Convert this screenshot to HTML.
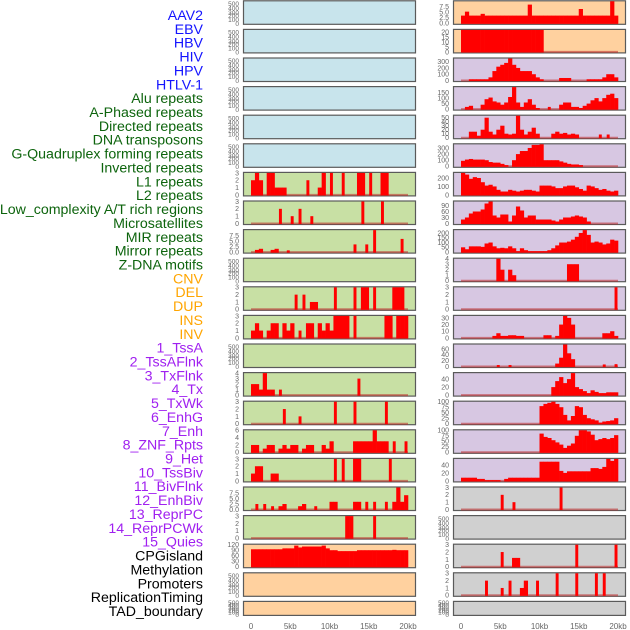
<!DOCTYPE html>
<html><head><meta charset="utf-8">
<style>
html,body{margin:0;padding:0;background:#fff;}
svg{display:block;font-family:"Liberation Sans",sans-serif;}
</style></head>
<body>
<svg id="chart" width="630" height="630" viewBox="0 0 630 630" xmlns="http://www.w3.org/2000/svg"></svg>
<script>
const labels = ["AAV2","EBV","HBV","HIV","HPV","HTLV-1","Alu repeats","A-Phased repeats","Directed repeats","DNA transposons","G-Quadruplex forming repeats","Inverted repeats","L1 repeats","L2 repeats","Low_complexity A/T rich regions","Microsatellites","MIR repeats","Mirror repeats","Z-DNA motifs","CNV","DEL","DUP","INS","INV","1_TssA","2_TssAFlnk","3_TxFlnk","4_Tx","5_TxWk","6_EnhG","7_Enh","8_ZNF_Rpts","9_Het","10_TssBiv","11_BivFlnk","12_EnhBiv","13_ReprPC","14_ReprPCWk","15_Quies","CPGisland","Methylation","Promoters","ReplicationTiming","TAD_boundary"];
const categories = ["virus","virus","virus","virus","virus","virus","repeat","repeat","repeat","repeat","repeat","repeat","repeat","repeat","repeat","repeat","repeat","repeat","repeat","sv","sv","sv","sv","sv","chrom","chrom","chrom","chrom","chrom","chrom","chrom","chrom","chrom","chrom","chrom","chrom","chrom","chrom","chrom","other","other","other","other","other"];
const xTickLabels = ["0","5kb","10kb","15kb","20kb"];
const xTickValues = [0,5000,10000,15000,20000];
const emptyTicks = ["0","100","200","300","400","500"];
const ticks3 = [0,1,2,3];
const ticks4 = [0,1,2,3,4];
const ticks10 = [0,2.5,5,7.5];
const ticks20 = [0,5,10,15,20];
const ticks120 = [0,30,60,90,120];
const ticks300 = [0,100,200,300];
const ticks150 = [0,50,100,150];
const ticks50 = [0,10,20,30,40,50];
const ticks200 = [0,100,200];
const ticks90 = [0,30,60,90];
const ticks200b = [0,50,100,150,200];
const ticks30 = [0,10,20,30];
const ticks60 = [0,20,40,60];
const ticks40 = [0,20,40];
const ticks100 = [0,25,50,75,100];
const ticks6 = [0,2,4,6];

// series values: 40 bins of 500bp
const alu = [2,3,2,0,3,3,1,1,1,0,0,0,0,0,2,0,0,1,3,0,3,0,0,3,0,0,0,3,3,0,3,0,0,3,3,0,0,0,0,0];
const aphased = [0,0,0,0,0,0,0,2,0,0,1,0,2,0,0,1,0,0,0,0,0,0,0,0,0,0,0,0,3,0,0,0,0,3,0,0,0,0,0,0];
const directed = [0,1,1.5,0,0,1,1.5,0,0,0.8,0,0,0,0,0,0,0,0,0,0,0,0,0,0,0,0,3.5,0,0,3.5,0,10,0,0,0,0,0,0,6,0];
const gquad = [0,0,0,0,0,0,0,0,0,0,0,2,0,2,0,1,1,0,0,0,0,3,0,0,0,0,3,0,3,3,0,3,0,0,0,0,3,3,3,0];
const inverted = [1,2,1,0,1,2,2,0,2,1,2,0,1,0,2,2,0,2,1,2,1,3,3,3,3,0,3,0,0,0,0,0,0,0,3,3,0,3,3,3];
const l2 = [2,2,1,4,1,1,0,1,0,0,0,0,0,0,0,0,0,0,0,0,0,0,0,0,0,0,0,3,0,0,0,0,0,0,0,0,0,0,0,0];
const lowcomp = [0,0,0,0,0,0,0,0,2,0,0,0,1,0,0,0,0,0,0,0,0,3,0,0,0,0,3,0,0,0,0,0,0,0,3,0,0,0,0,0];
const micro = [2,2,0,1,2,2,0,1,2,1,2,2,0,1,2,2,0,0,2,1,3,0,0,0,0,0,3,3,3,3,3,6,3,3,3,0,3,0,0,3];
const mir = [1,2,2,0,0,1,1,0,0,0,0,0,0,0,0,0,0,0,0,0,0,3,0,3,0,0,3,3,0,0,0,0,0,0,0,3,0,0,0,0];
const mirror = [0,2.5,0,2.5,0,1.5,0,1.5,2.5,0,0,0,1.5,2.5,0,0,1.5,0,0,0,3.5,3.5,0,0,0,0,3.5,3.5,0,3.5,0,3.5,0,0,3.5,0,3.5,10,3.5,6.5];
const zdna = [0,0,0,0,0,0,0,0,0,0,0,0,0,0,0,0,0,0,0,0,0,0,0,0,3,3,0,0,0,0,0,3,0,0,0,0,0,0,0,0];
const cnv = [95,95,95,95,95,95,95,95,100,100,100,115,105,110,110,110,110,110,115,100,90,90,85,85,85,85,85,90,90,90,90,90,90,90,90,90,92,90,90,90];
const ins = [3.5,5.3,3.5,3.5,3.5,4.3,3.5,3.5,3.5,3.5,3.5,3.5,3.5,3.5,3.5,3.5,3.5,8.5,3.5,3.5,3.5,3.5,3.5,3.5,3.5,3.5,3.5,3.5,3.5,3.5,6.5,3.5,3.5,3.5,3.5,3.5,3.5,3.5,10,3.5];
const inv = [22,22,22,22,22,22,22,22,22,22,22,22,22,22,22,22,22,22,22,22,22,0,0,0,0,0,0,0,0,0,0,0,0,0,0,0,0,0,0,0];
const tssa = [0,0,20,20,20,20,20,50,150,220,250,280,350,250,200,150,150,150,100,50,20,0,0,0,0,40,40,40,0,0,0,0,20,20,20,20,50,100,100,50];
const tssaflnk = [0,20,30,0,0,40,90,105,70,60,40,60,110,200,60,20,60,90,40,10,0,0,20,0,0,40,60,60,20,20,10,30,50,80,100,70,100,130,140,100];
const txflnk = [0,0,15,15,5,20,50,15,8,20,30,10,8,10,55,20,8,15,25,10,0,0,0,10,15,10,12,8,10,8,0,0,0,0,0,8,0,8,0,0];
const tx = [90,110,120,110,110,110,100,70,60,60,40,20,0,100,200,250,250,300,350,350,360,100,100,100,100,80,60,40,30,30,20,0,0,0,0,0,0,0,0,0];
const txwk = [260,240,190,210,200,150,110,120,100,60,40,40,60,50,40,50,60,60,50,40,110,110,110,100,80,80,100,110,110,90,70,50,110,100,80,60,70,50,40,50];
const enhg = [20,30,50,60,60,70,100,110,40,30,45,45,10,40,85,65,30,40,40,20,20,20,20,15,10,20,30,30,35,40,35,30,10,0,0,0,0,0,0,0];
const enh = [50,30,60,60,60,55,90,100,60,40,45,40,60,40,10,40,20,10,10,10,10,10,20,40,70,100,100,110,130,160,200,230,180,100,110,100,80,90,130,120];
const znf = [0,0,0,0,0,0,0,0,0,4,2,0,2,1,0,0,0,0,0,0,0,0,0,0,0,0,0,3,3,3,0,0,0,0,0,0,0,0,0,0];
const het = [0,0,0,0,0,0,0,0,0,0,0,0,0,0,0,0,0,0,0,0,0,0,0,0,0,0,0,0,0,0,0,0,0,0,0,0,0,0,0,3];
const tssbiv = [0,0,0,0,0,0,0,0,3,7,3,3,4,4,3,3,0,0,0,0,0,4,4,0,3,20,33,30,20,0,0,0,0,0,0,0,7,7,10,3];
const bivflnk = [0,0,0,0,0,0,0,0,0,5,0,0,5,0,0,0,0,0,0,0,0,0,0,0,10,30,75,45,25,0,0,0,0,0,0,0,7,0,0,8];
const enhbiv = [0,0,0,0,0,0,0,0,0,0,0,0,0,0,0,0,0,0,0,0,0,0,0,20,35,45,30,40,55,20,15,10,5,12,8,5,5,7,7,7];
const reprpc = [0,0,0,0,0,0,0,0,0,0,0,0,0,0,0,0,0,0,0,0,80,90,95,100,90,75,40,15,35,80,75,40,25,20,15,5,10,12,15,25];
const reprpcwk = [0,0,0,0,0,0,0,0,0,0,0,0,0,0,0,0,0,0,0,0,85,70,65,55,45,35,20,30,40,75,100,100,95,80,55,60,65,60,65,78];
const quies = [8,8,8,8,5,5,2,2,2,2,0,5,8,8,8,8,8,8,8,8,48,48,48,48,48,25,20,24,24,24,24,24,24,32,32,30,35,55,50,55];
const cpg = [0,0,0,0,0,0,0,0,0,0,2,0,0,1,0,0,0,0,0,0,0,0,0,0,0,3,0,0,0,0,0,0,0,0,0,0,0,0,0,0];
const promoters = [0,0,0,0,0,0,0,0,0,0,2,0,0,1.2,1.2,0,0,0,0,0,0,0,0,0,0,0,0,0,0,3,0,0,0,0,0,0,0,0,0,3];
const reptiming = [0,0,0,0,0,0,2,0,0,0,1,0,2,0,0,1,2,0,0,2,0,0,0,0,3,0,0,0,0,3,0,0,0,0,3,0,3,0,0,0];

const seriesList = [null,null,null,null,null,null,alu,aphased,directed,null,gquad,inverted,null,l2,lowcomp,micro,mir,mirror,zdna,cnv,null,null,ins,inv,tssa,tssaflnk,txflnk,tx,txwk,enhg,enh,znf,het,tssbiv,bivflnk,enhbiv,reprpc,reprpcwk,quies,cpg,null,promoters,reptiming,null];
const ticksList = [null,null,null,null,null,null,ticks3,ticks3,ticks10,null,ticks3,ticks3,null,ticks4,ticks3,ticks6,ticks3,ticks10,ticks3,ticks120,null,null,ticks10,ticks20,ticks300,ticks150,ticks50,ticks300,ticks200,ticks90,ticks200b,ticks4,ticks3,ticks30,ticks60,ticks40,ticks100,ticks100,ticks40,ticks3,null,ticks3,ticks3,null];
const maxList = [0,0,0,0,0,0,3,3,10,0,3,3,0,4,3,6,3,10,3,120,0,0,10,22,350,200,55,360,260,110,230,4,3,33,75,55,100,100,55,3,0,3,3,0];

const svg = document.getElementById('chart');
const NS = "http://www.w3.org/2000/svg";
function mk(tag, attrs, parent){ const e=document.createElementNS(NS,tag); for(const k in attrs) e.setAttribute(k,attrs[k]); (parent||svg).appendChild(e); return e; }

const fills = {virus:"#c8e4ec", repeat:"#c8e0a4", sv:"#ffd19f", chrom:"#d7c7e2", other:"#d0d0d0"};
const labelColors = {virus:"#1414ff", repeat:"#0d640d", sv:"#ffa500", chrom:"#a020f0", other:"#000000"};
const step = 28.6, H = 24.5;
const colX = [{left:243,right:416,x0:251,x1:408},{left:453,right:626,x0:461,x1:618}];

function xScale(col, bp){ return col.x0 + (col.x1-col.x0)*bp/20000; }

labels.forEach((t,i)=>{
  const el = mk('text',{x:203,y:(20+i*13.86).toFixed(1),'text-anchor':'end','font-size':'14.2',fill:labelColors[categories[i]]});
  el.textContent = t;
  
  
});

labels.forEach((t,i)=>{
  const colIdx = i<22?0:1, k = i%22, col = colX[colIdx];
  const top = k*step + 0.3;
  const h = (k===21)? 15 : H;
  const bot = top + h;
  const g = mk('g',{});
  
  
  const rect = mk('rect',{x:col.left+0.5,y:top+0.5,width:col.right-col.left-1,height:h-1,fill:fills[categories[i]],stroke:"#5a5a5a",'stroke-width':1.2},g);
  
  
  const data = seriesList[i], tks = ticksList[i], ymax = maxList[i];
  const tx = col.left - 4;
  if(!data){
    const pos = [bot-1, bot-5, bot-9, bot-12, bot-16.5, bot-21];
    emptyTicks.forEach((lab,j)=>{
      const yy = (k===21)? bot-1-j*2.4 : pos[j];
      const te = mk('text',{x:tx,y:(yy+2.2).toFixed(1),'text-anchor':'end','font-size':'6.5',fill:"#666"},g);
      te.textContent = lab;
      
      
    });
    return;
  }
  const y0 = bot - 1.5, span = h - 2.5;
  const yS = v => y0 - v/ymax*span;
  const dec = tks.some(v=>v%1!==0);
  tks.forEach(v=>{
    const te = mk('text',{x:tx,y:(yS(v)+2.4).toFixed(1),'text-anchor':'end','font-size':'7',fill:"#666"},g);
    te.textContent = dec ? v.toFixed(1) : String(v);
    
    
  });
  const base = mk('line',{x1:col.x0,x2:col.x1,y1:y0,y2:y0,stroke:"rgba(190,40,40,0.55)",'stroke-width':2},g);
  
  
  const bw = (col.x1-col.x0)/data.length;
  data.forEach((v,j)=>{
    if(v<=0) return;
    const isolated = !(data[j-1]>0) && !(data[j+1]>0);
    const w = isolated ? bw*0.75 : bw+0.3;
    const xo = isolated ? bw*0.12 : 0;
    const yt = yS(v);
    const b = mk('rect',{x:(xScale(col,j*500)+xo).toFixed(2),y:yt.toFixed(2),width:w.toFixed(2),height:(y0-yt+0.5).toFixed(2),fill:"#ff0000"},g);
    
    
  });
});

colX.forEach((col,c)=>{
  xTickValues.forEach((v,j)=>{
    const te = mk('text',{x:xScale(col,v).toFixed(1),y:629,'text-anchor':'middle','font-size':'8',fill:"#666"});
    te.textContent = xTickLabels[j];
    
    
  });
});
</script>
</body></html>
